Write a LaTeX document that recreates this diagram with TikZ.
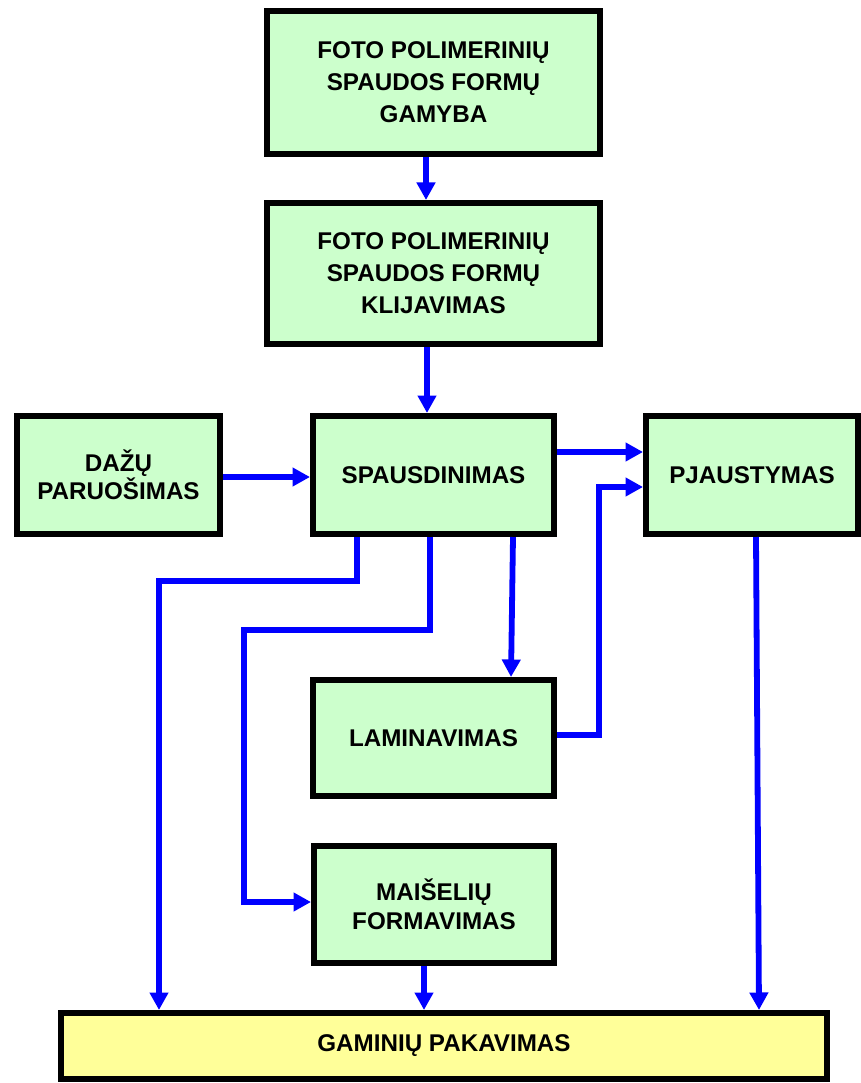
\documentclass[tikz,border=0pt]{standalone}
\usepackage{fontspec}
\setmainfont{Liberation Sans}
\usetikzlibrary{arrows.meta}
\definecolor{boxgreen}{HTML}{CCFFCC}
\definecolor{boxyellow}{HTML}{FFFF99}
\definecolor{arrblue}{HTML}{0000FF}
\begin{document}
\begin{tikzpicture}[x=1pt,y=-1pt,
  procbox/.style={draw=black, line width=6pt, fill=boxgreen, align=center, inner sep=0pt,
    font=\bfseries\fontsize{24.2}{32}\selectfont},
  tightbox/.style={procbox, font=\bfseries\fontsize{24.2}{28.5}\selectfont},
  packbox/.style={procbox, fill=boxyellow},
  arr/.style={draw=arrblue, line width=5.8pt, -{Triangle[width=18pt,length=17.5pt]}}]
\useasboundingbox (0,0) rectangle (861,1083);
\node[procbox, minimum width=333pt, minimum height=143pt] (gam) at (433.5,82.5)
  {FOTO POLIMERINIŲ\\SPAUDOS FORMŲ\\GAMYBA};
\node[procbox, minimum width=333pt, minimum height=141pt] (klij) at (433.5,273.5)
  {FOTO POLIMERINIŲ\\SPAUDOS FORMŲ\\KLIJAVIMAS};
\node[tightbox, minimum width=203pt, minimum height=118pt] (daz) at (118.5,475)
  {DAŽŲ\\PARUOŠIMAS};
\node[procbox, minimum width=241pt, minimum height=118pt] (spaus) at (433.5,475)
  {SPAUSDINIMAS};
\node[procbox, minimum width=212pt, minimum height=118pt] (pjaus) at (752,475)
  {PJAUSTYMAS};
\node[procbox, minimum width=241pt, minimum height=116pt] (lamin) at (433.5,738)
  {LAMINAVIMAS};
\node[tightbox, minimum width=240pt, minimum height=117pt] (mais) at (434,904.5)
  {MAIŠELIŲ\\FORMAVIMAS};
\node[packbox, minimum width=766pt, minimum height=66pt] (pak) at (444,1046)
  {GAMINIŲ PAKAVIMAS};
% connectors
\draw[arr] (gam.south -| 426,0) -- (klij.north -| 426,0);
\draw[arr] (klij.south -| 427,0) -- (spaus.north -| 427,0);
\draw[arr] (daz.east |- 0,477) -- (spaus.west |- 0,477);
\draw[arr] (spaus.east |- 0,452) -- (pjaus.west |- 0,452);
\draw[arr] (lamin.east |- 0,735) -- (599,735) -- (599,487) -- (pjaus.west |- 0,487);
\draw[arr] (spaus.south -| 357,0) -- (357,581) -- (159,581) -- (pak.north -| 159,0);
\draw[arr] (spaus.south -| 430,0) -- (430,630) -- (244,630) -- (244,902) -- (mais.west |- 0,902);
\draw[arr] (spaus.south -| 513,0) -- (lamin.north -| 511,0);
\draw[arr] (mais.south -| 424,0) -- (pak.north -| 424,0);
\draw[arr] (pjaus.south -| 756,0) -- (pak.north -| 759,0);
\end{tikzpicture}
\end{document}
